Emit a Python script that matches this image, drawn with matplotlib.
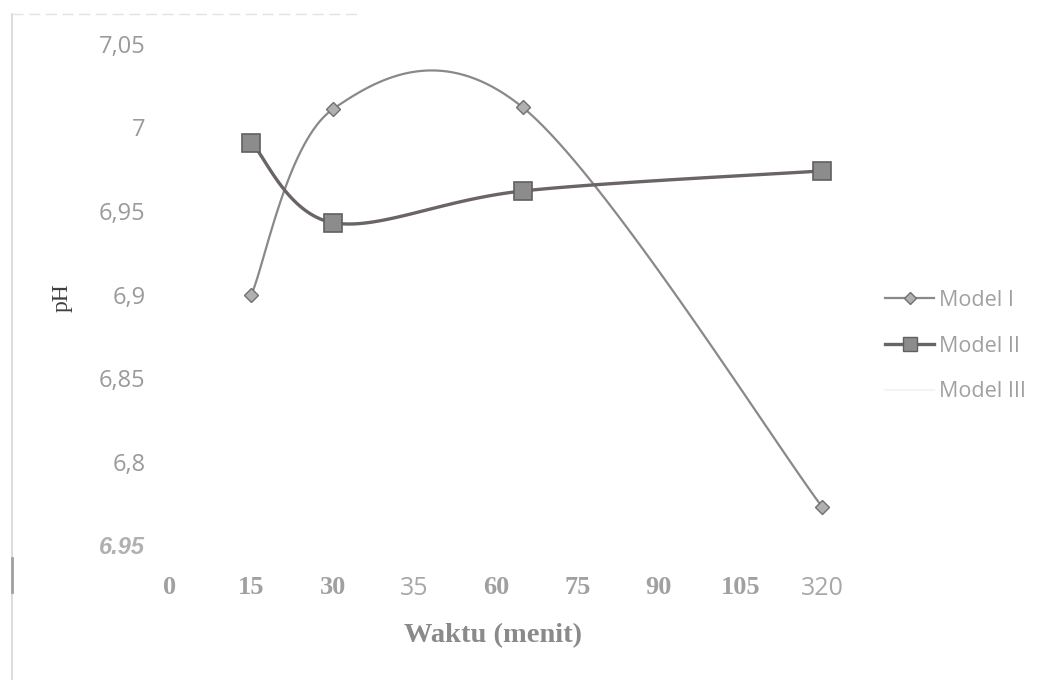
import numpy as np
import matplotlib.pyplot as plt
from matplotlib.lines import Line2D

# Label waktu pada sumbu kategori
waktu_label = ['0', '15', '30', '35', '60', '75', '90', '105', '320']
# Posisi titik pengamatan pada sumbu kategori
posisi = [1, 2, 4.33, 8]
ph_model1 = [6.900, 7.011, 7.012, 6.773]
ph_model2 = [6.991, 6.943, 6.962, 6.974]
ph_model3 = []

y_ticks = [6.75, 6.80, 6.85, 6.90, 6.95, 7.00, 7.05]
y_label = ['6.95', '6,8', '6,85', '6,9', '6,95', '7', '7,05']


def kurva_halus(x, y, n=40):
    # garis halus ala Excel (Bezier dengan titik kontrol Catmull-Rom)
    p = np.column_stack([x, y]).astype(float)
    p = np.vstack([p[0], p, p[-1]])
    t = np.linspace(0, 1, n)[:, None]
    seg = []
    for i in range(1, len(p) - 2):
        p0, p1, p2, p3 = p[i - 1], p[i], p[i + 1], p[i + 2]
        c1 = p1 + (p2 - p0) / 6
        c2 = p2 - (p3 - p1) / 6
        b = (1 - t) ** 3 * p1 + 3 * (1 - t) ** 2 * t * c1 + 3 * (1 - t) * t ** 2 * c2 + t ** 3 * p2
        seg.append(b)
    b = np.vstack(seg)
    return b[:, 0], b[:, 1]


fig = plt.figure(figsize=(10.43, 6.8), dpi=100)
ax = fig.add_axes([0.1434, 0.1985, 0.6837, 0.7368])

# Model I
xs, ys = kurva_halus(posisi, ph_model1)
ax.plot(xs, ys, color='#8c8888', lw=1.6, zorder=2)
ax.plot(posisi, ph_model1, ls='none', marker='D', ms=7, mfc='#b0b0b0', mec='#707070', mew=1, zorder=3)

# Model II
xs, ys = kurva_halus(posisi, ph_model2)
ax.plot(xs, ys, color='#6a6464', lw=2.4, zorder=2)
ax.plot(posisi, ph_model2, ls='none', marker='s', ms=13, mfc='#8c8c8c', mec='#606060', mew=1.2, zorder=3)

# Model III (tidak tampak)
ax.plot(ph_model3, ph_model3, color='#f4f4f4', lw=1.5)

ax.set_xlim(-0.25, 8.5)
ax.set_ylim(6.75, 7.05)
for s in ax.spines.values():
    s.set_visible(False)

ax.set_xticks(range(len(waktu_label)))
ax.set_xticklabels(waktu_label)
ax.tick_params(axis='x', length=0, pad=22)
for lbl in ax.get_xticklabels():
    if lbl.get_text() in ('35', '320'):
        lbl.set_fontfamily('Open Sans')
        lbl.set_fontsize(18)
        lbl.set_color('#a8a8a8')
    else:
        lbl.set_fontfamily('Liberation Serif')
        lbl.set_fontweight('bold')
        lbl.set_fontsize(19)
        lbl.set_color('#a0a0a0')

ax.set_yticks(y_ticks)
ax.set_yticklabels(y_label)
ax.tick_params(axis='y', length=0, pad=3)
for i, lbl in enumerate(ax.get_yticklabels()):
    if i == 0:
        lbl.set_fontfamily('Liberation Sans')
        lbl.set_fontweight('bold')
        lbl.set_fontstyle('italic')
        lbl.set_fontsize(17)
        lbl.set_color('#b0b0b0')
    else:
        lbl.set_fontfamily('Open Sans')
        lbl.set_fontsize(17)
        lbl.set_color('#9a9a9a')

ax.set_xlabel('Waktu (menit)', family='Liberation Serif', fontweight='bold',
              fontsize=20.5, color='#8a8a8a', va='center')
ax.xaxis.set_label_coords(0.4816, -0.18)
ax.set_ylabel('pH', family='Liberation Serif', fontsize=17, color='#404040', va='center')
ax.yaxis.set_label_coords(-0.123, 0.493)

handles = [
    Line2D([], [], color='#8c8888', lw=1.6, marker='D', ms=6, mfc='#b0b0b0', mec='#707070'),
    Line2D([], [], color='#6a6464', lw=2.4, marker='s', ms=10, mfc='#8c8c8c', mec='#606060'),
    Line2D([], [], color='#f4f4f4', lw=1.5),
]
leg = fig.legend(handles, ['Model I', 'Model II', 'Model III'], loc='upper left',
                 bbox_to_anchor=(874 / 1043, 1 - 279 / 680), frameon=False,
                 handlelength=2.3, handletextpad=0.2, labelspacing=1.15,
                 borderpad=0, prop={'family': 'Open Sans', 'size': 15.5})
for txt in leg.get_texts():
    txt.set_color('#a0a0a0')

# Garis tepi tipis di kiri dan atas
fig.add_artist(Line2D([12 / 1043, 12 / 1043], [0, 1 - 14 / 680], color='#d6d6d6', lw=1.2))
fig.add_artist(Line2D([12 / 1043, 360 / 1043], [1 - 14 / 680, 1 - 14 / 680], color='#e2e2e2',
                      lw=1.0, ls=(0, (8, 4))))
fig.add_artist(Line2D([12 / 1043, 12 / 1043], [1 - 558 / 680, 1 - 592 / 680], color='#a0a0a0', lw=2))

fig.savefig('out.png', dpi=100)
